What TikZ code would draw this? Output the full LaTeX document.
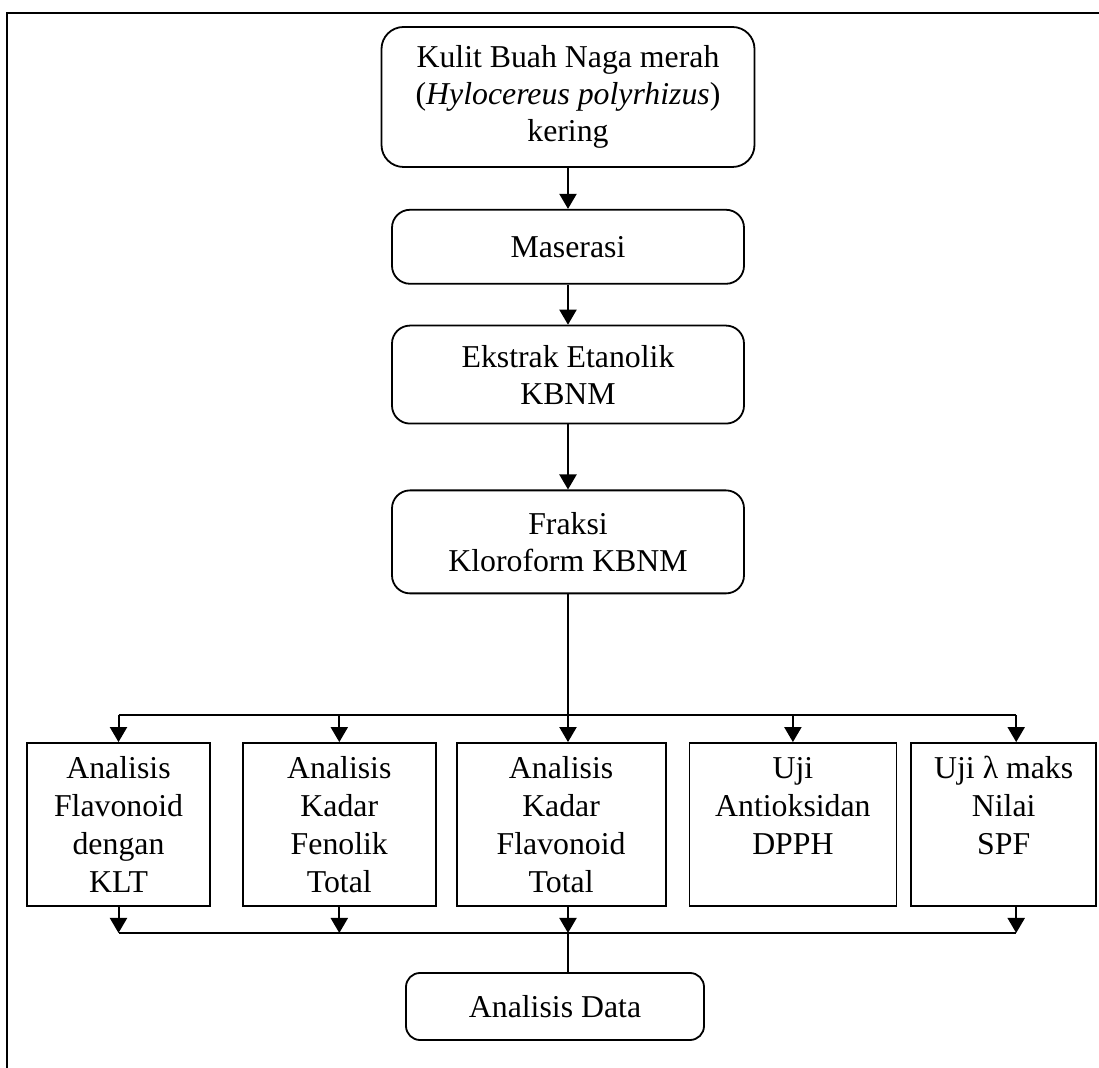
\documentclass[tikz,border=0pt]{standalone}
\usepackage{fontspec}
\setmainfont{Liberation Serif}
\usetikzlibrary{positioning,arrows.meta}

\begin{document}
\begin{tikzpicture}[x=0.5pt,y=-0.5pt,
    every node/.style={font=\fontsize{15.9}{18.5}\selectfont},
    proc/.style={draw,line width=0.9pt,rounded corners=9pt,
        minimum width=176pt,align=center,inner sep=0pt},
    test node/.style={draw,line width=0.9pt,minimum height=81.5pt,
        align=center,inner sep=0pt,font=\fontsize{15.9}{19}\selectfont},
    arr/.style={-{Triangle[length=7.5pt,width=8.5pt]},line width=1pt},
    conn/.style={line width=1pt}]

    \useasboundingbox (0,0) rectangle (1099,1068);
    % Frame
    \draw[conn,line width=1.2pt] (7,1068) -- (7,13) -- (1099,13);

    % Define vertices
    \node[proc,minimum width=186.5pt,minimum height=70pt,rounded corners=11pt] (kulit) at (568,97)
        {Kulit Buah Naga merah\\(\textit{Hylocereus polyrhizus})\\kering};
    \node[proc,minimum height=37pt] (maserasi) [below=20.5pt of kulit] {Maserasi};
    \node[proc,minimum height=49pt] (ekstrak) [below=20pt of maserasi] {Ekstrak Etanolik\\KBNM};
    \node[proc,minimum height=51.5pt] (fraksi) [below=32.5pt of ekstrak] {Fraksi\\Kloroform KBNM};

    \node[test node,minimum width=91.5pt] (a1) at (118.5,824.5) {Analisis\\Flavonoid\\dengan\\KLT};
    \node[test node,minimum width=96.5pt] (a2) [right=15.5pt of a1] {Analisis\\Kadar\\Fenolik\\Total};
    \node[test node,minimum width=104.5pt] (a3) [right=9.5pt of a2] {Analisis\\Kadar\\Flavonoid\\Total};
    \node[test node,minimum width=103.5pt] (a4) [right=11pt of a3] {Uji\\Antioksidan\\DPPH\\ \mbox{}};
    \node[test node,minimum width=92.5pt] (a5) [right=6.5pt of a4] {Uji λ maks\\Nilai\\SPF\\ \mbox{}};

    \node[proc,minimum width=149pt,minimum height=33.5pt,rounded corners=7pt] (data) at (555,1006.5) {Analisis Data};

    \coordinate (bus) at (0,715);
    \coordinate (sink) at (0,933);
    \coordinate (t5) at ([xshift=6.25pt]a5.north);
    \coordinate (b5) at ([xshift=6.25pt]a5.south);

    % Draw edges
    \path[arr]
        (kulit) edge (maserasi)
        (maserasi) edge (ekstrak)
        (ekstrak) edge (fraksi)
        (fraksi) edge (fraksi |- a3.north);

    \draw[conn] (a1.north |- bus) -- (t5 |- bus);
    \foreach \n in {a1,a2,a4}
        \draw[arr] (\n.north |- bus) -- (\n.north);
    \draw[arr] (t5 |- bus) -- (t5);

    \foreach \n in {a1,a2}
        \draw[arr] (\n.south) -- (\n.south |- sink);
    \draw[arr] (fraksi |- a3.south) -- (fraksi |- sink);
    \draw[arr] (b5) -- (b5 |- sink);
    \draw[conn] (a1.south |- sink) -- (b5 |- sink);
    \draw[conn] (fraksi |- sink) -- (fraksi |- data.north);

\end{tikzpicture}
\end{document}
